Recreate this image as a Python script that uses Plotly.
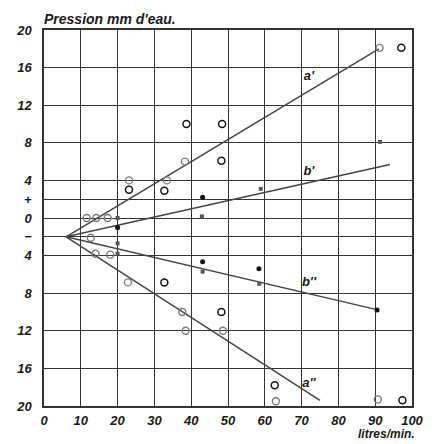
import plotly.graph_objects as go

# Common origin of the four regression lines (litres/min, mm water)
origin_x = 6
origin_y = -2

# Line end points and labels
line_names = ["a'", "b'", "b''", "a''"]
line_end_x = [91, 94, 91, 75]
line_end_y = [18, 5.7, -9.8, -19.4]
label_x = [72, 72, 72, 72]
label_y = [15.0, 4.9, -6.9, -17.6]

# Open circles (lighter stroke)
ring_light_x = [11.6, 14.2, 17.3, 12.7, 14.0, 18.0, 23.1, 33.4, 38.3, 22.8,
                37.6, 38.5, 48.6, 63.0, 90.7, 91.2]
ring_light_y = [0.0, 0.0, 0.0, -2.1, -3.8, -3.9, 4.0, 4.0, 6.0, -6.85,
                -10.0, -12.0, -12.0, -19.5, -19.3, 18.1]

# Open circles (dark stroke)
ring_dark_x = [23.1, 32.7, 38.7, 48.4, 48.2, 32.7, 48.2, 62.7, 97.4, 97.1]
ring_dark_y = [3.0, 2.9, 10.0, 10.0, 6.1, -6.85, -10.0, -17.8, -19.4, 18.1]

# Solid dots
dot_x = [43.1, 43.1, 58.4, 90.5, 20.0]
dot_y = [2.2, -4.65, -5.4, -9.8, -1.0]

# Small grey squares
sq_x = [42.9, 58.9, 43.1, 58.5, 91.3, 20.0, 20.0, 20.0]
sq_y = [0.17, 3.1, -5.7, -7.0, 8.1, 0.0, -2.7, -3.8]

# Axis ticks
x_ticks = [0, 10, 20, 30, 40, 50, 60, 70, 80, 90, 100]
y_tick_vals = [20, 16, 12, 8, 4, 2, 0, -2, -4, -8, -12, -16, -20]
y_tick_text = ["20", "16", "12", "8", "4", "+", "0", "\u2212", "4", "8", "12", "16", "20"]

INK = "#333333"
FONT = dict(family="Liberation Sans", size=13, color="#1a1a1a", style="italic", weight="bold")

fig = go.Figure()

for ex, ey in zip(line_end_x, line_end_y):
    fig.add_trace(go.Scatter(x=[origin_x, ex], y=[origin_y, ey], mode="lines",
                             line=dict(color="#444444", width=1.5),
                             showlegend=False, hoverinfo="skip"))

fig.add_trace(go.Scatter(x=ring_light_x, y=ring_light_y, mode="markers",
                         marker=dict(symbol="circle-open", size=7, color="#7a7a7a",
                                     line=dict(width=1.4, color="#7a7a7a")),
                         showlegend=False))
fig.add_trace(go.Scatter(x=ring_dark_x, y=ring_dark_y, mode="markers",
                         marker=dict(symbol="circle-open", size=7, color="#161616",
                                     line=dict(width=1.5, color="#161616")),
                         showlegend=False))
fig.add_trace(go.Scatter(x=sq_x, y=sq_y, mode="markers",
                         marker=dict(symbol="square", size=4, color="#555555"),
                         showlegend=False))
fig.add_trace(go.Scatter(x=dot_x, y=dot_y, mode="markers",
                         marker=dict(symbol="circle", size=5, color="#111111"),
                         showlegend=False))

fig.add_trace(go.Scatter(x=label_x, y=label_y, mode="text", text=line_names,
                         textfont=dict(family="Liberation Sans", size=13, color="#1a1a1a",
                                       style="italic", weight="bold"),
                         textposition="middle center", showlegend=False))

axis_common = dict(showgrid=True, gridcolor=INK, gridwidth=1.3, zeroline=False,
                   showline=True, linecolor=INK, linewidth=1.5, mirror=True,
                   ticks="", tickfont=FONT, fixedrange=True)

fig.update_xaxes(range=[0, 100], tickvals=x_ticks, ticktext=[str(v) for v in x_ticks],
                 ticklabelstandoff=2, **axis_common)
fig.update_yaxes(range=[-20, 20], tickvals=y_tick_vals, ticktext=y_tick_text,
                 ticklabelstandoff=8, **axis_common)

fig.add_annotation(text="Pression mm d'eau.", xref="paper", yref="paper",
                   x=-0.005, y=1.0, xanchor="left", yanchor="bottom", yshift=1,
                   showarrow=False,
                   font=dict(family="Liberation Sans", size=14, color="#1a1a1a",
                             style="italic", weight="bold"))
fig.add_annotation(text="litres/min.", xref="paper", yref="paper",
                   x=1.01, y=0, xanchor="right", yanchor="top", yshift=-20,
                   borderpad=0, showarrow=False,
                   font=dict(family="Liberation Sans", size=12, color="#1a1a1a",
                             style="italic", weight="bold"))

fig.update_layout(width=436, height=444, margin=dict(l=44, r=14, t=30, b=38),
                  paper_bgcolor="white", plot_bgcolor="white")

fig.write_html("out.html")
